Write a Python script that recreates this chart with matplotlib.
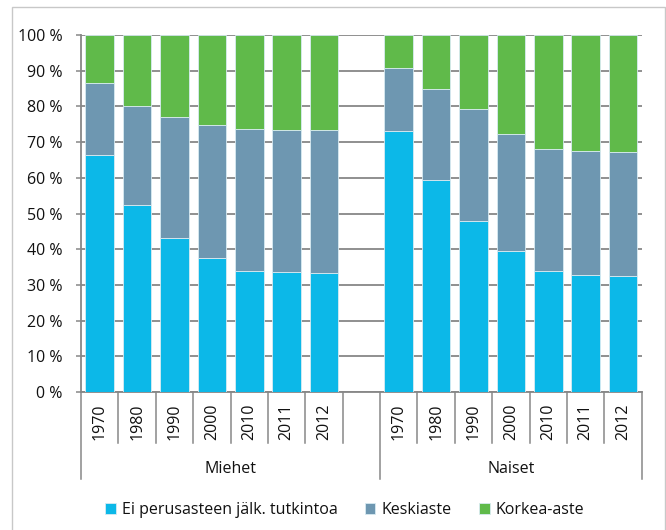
import numpy as np
import matplotlib.pyplot as plt
from matplotlib.patches import Rectangle

# education level shares (%) by year, men and women
years = ['1970', '1980', '1990', '2000', '2010', '2011', '2012']
groups = ['Miehet', 'Naiset']
series = ['Ei perusasteen jälk. tutkintoa', 'Keskiaste', 'Korkea-aste']

miehet_ei = [66.3, 52.3, 43.2, 37.5, 34.0, 33.6, 33.4]
miehet_keski = [20.2, 27.8, 33.9, 37.2, 39.6, 39.9, 40.1]
miehet_korkea = [13.5, 19.9, 22.9, 25.3, 26.4, 26.5, 26.5]

naiset_ei = [73.0, 59.4, 47.8, 39.6, 33.8, 32.9, 32.5]
naiset_keski = [17.8, 25.5, 31.4, 32.8, 34.3, 34.7, 34.7]
naiset_korkea = [9.2, 15.1, 20.8, 27.6, 31.9, 32.4, 32.8]

colors = ['#0cb8e8', '#6e97b1', '#60ba4a']
grid_col = '#878787'
txt_col = '#111111'

plt.rcParams['font.family'] = ['Open Sans', 'DejaVu Sans']
fs = 11.5

fig = plt.figure(figsize=(6.66, 5.30), dpi=100)
ax = fig.add_axes([81/666, 1-392/530, (641.7-81)/666, (392-35)/530])

# slots: 7 men, one empty, 7 women
x_m = np.arange(7)
x_n = np.arange(8, 15)
ei = miehet_ei + naiset_ei
keski = miehet_keski + naiset_keski
korkea = miehet_korkea + naiset_korkea
xs = np.concatenate([x_m, x_n])

w = 0.765
ec = '#d8ebf2'
ax.bar(xs, ei, w, color=colors[0], edgecolor=ec, linewidth=0.6, label=series[0], zorder=3)
ax.bar(xs, keski, w, bottom=ei, color=colors[1], edgecolor=ec, linewidth=0.6, label=series[1], zorder=3)
ax.bar(xs, korkea, w, bottom=np.array(ei)+np.array(keski), color=colors[2], edgecolor=ec,
       linewidth=0.6, label=series[2], zorder=3)

ax.set_xlim(-0.5, 14.5)
ax.set_ylim(0, 100)
ax.set_yticks(np.arange(0, 101, 10))
ax.set_yticklabels([f'{v} %' for v in range(0, 101, 10)], fontsize=fs, color=txt_col)
ax.yaxis.grid(True, color=grid_col, linewidth=1.3, zorder=0)
ax.set_axisbelow(True)
ax.tick_params(axis='y', length=3.6, width=1.1, color=grid_col, pad=9.5)
ax.set_xticks([])
for s in ['top', 'right']:
    ax.spines[s].set_visible(False)
for s in ['left', 'bottom']:
    ax.spines[s].set_color(grid_col)
    ax.spines[s].set_linewidth(1.3)

# category axis: year labels and separators below the plot
tr = ax.get_xaxis_transform()
for i, x in enumerate(xs):
    ax.text(x, -0.083, years[i % 7], transform=tr, rotation=90, ha='center', va='center',
            fontsize=fs, color=txt_col)
for b in np.arange(-0.5, 15, 1):
    low = -0.245 if b in (-0.5, 7.5, 14.5) else -0.1437
    ax.plot([b, b], [0, low], transform=tr, color=grid_col, linewidth=1.1, clip_on=False)
ax.text(3.5, -0.217, groups[0], transform=tr, ha='center', va='center', fontsize=fs, color=txt_col)
ax.text(11, -0.217, groups[1], transform=tr, ha='center', va='center', fontsize=fs, color=txt_col)

leg = fig.legend(loc='center', bbox_to_anchor=(0.518, 0.038), ncol=3, frameon=False, fontsize=fs,
                 handlelength=0.65, handleheight=0.65, handletextpad=0.4, columnspacing=1.7)
for t in leg.get_texts():
    t.set_color(txt_col)

# outer frame
fig.patches.append(Rectangle((12/666, -0.1), 653/666, 1.1 - 7/530, transform=fig.transFigure,
                             fill=False, edgecolor='#c8c8c8', linewidth=1.0))

plt.savefig('out.png', dpi=100)
